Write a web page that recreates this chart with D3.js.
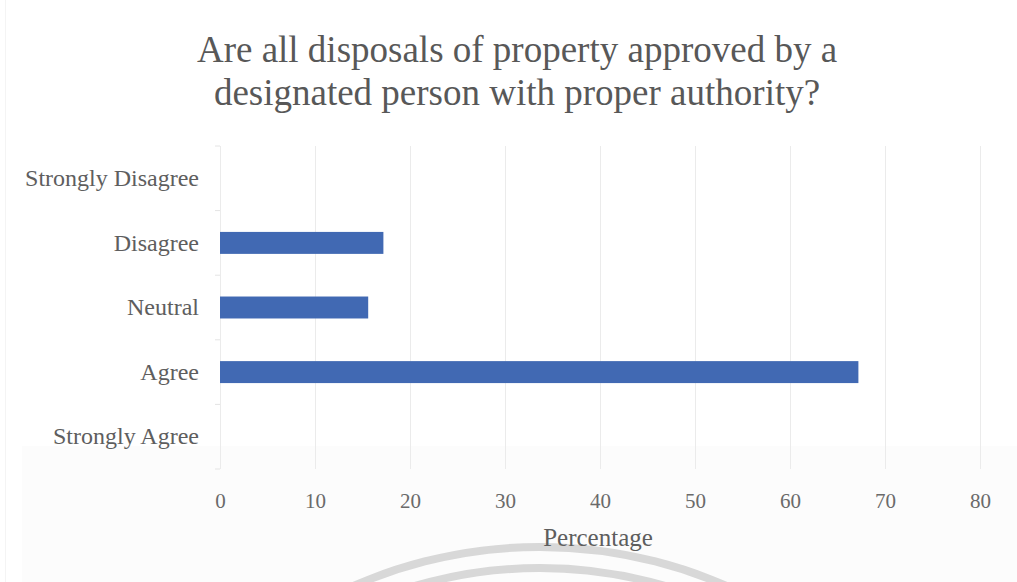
<!DOCTYPE html>
<html>
<head>
<meta charset="utf-8">
<script src="https://cdn.jsdelivr.net/npm/d3@7"></script>
<style>
  html, body { margin: 0; padding: 0; background: #ffffff; }
  svg { display: block; }
  text { font-family: "Liberation Serif", "Times New Roman", serif; }
</style>
</head>
<body>
<script>
// Survey responses, top to bottom as listed on the axis
const categories = ["Strongly Disagree", "Disagree", "Neutral", "Agree", "Strongly Agree"];
const percentages = [0, 17.2, 15.6, 67.2, 0];
const xTicks = [0, 10, 20, 30, 40, 50, 60, 70, 80];
const titleLines = ["Are all disposals of property approved by a", "designated person with proper authority?"];
const xTitle = "Percentage";

const W = 1017, H = 582;
const plot = { left: 220, right: 980, top: 146, bottom: 469 };

const svg = d3.select("body").append("svg")
  .attr("width", W).attr("height", H);

// page background, with a faintly darker lower strip
svg.append("rect").attr("width", W).attr("height", H).attr("fill", "#ffffff");
svg.append("rect").attr("x", 22).attr("y", 446).attr("width", W - 22).attr("height", H - 446)
  .attr("fill", "#fcfcfc");
svg.append("line").attr("x1", 5.5).attr("x2", 5.5).attr("y1", 0).attr("y2", H)
  .attr("stroke", "#f4f4f4").attr("stroke-width", 1);

const x = d3.scaleLinear().domain([0, 80]).range([plot.left, plot.right]);
const y = d3.scaleBand().domain(categories).range([plot.top, plot.bottom])
  .paddingInner(0.66).paddingOuter(0.33).align(0.5);

// vertical gridlines
svg.append("g").selectAll("line").data(xTicks).join("line")
  .attr("x1", d => x(d) + 0.5).attr("x2", d => x(d) + 0.5)
  .attr("y1", plot.top).attr("y2", plot.bottom)
  .attr("stroke", "#ebebeb").attr("stroke-width", 1);

// category boundary ticks on the left axis
const step = y.step();
const bounds = d3.range(categories.length + 1).map(i => plot.top + i * step);
svg.append("g").selectAll("line").data(bounds).join("line")
  .attr("x1", plot.left - 5).attr("x2", plot.left)
  .attr("y1", d => d).attr("y2", d => d)
  .attr("stroke", "#e4e4e4").attr("stroke-width", 1);

// bars
svg.append("g").selectAll("rect").data(categories.map((c, i) => ({ c, v: percentages[i] })))
  .join("rect")
  .attr("x", x(0))
  .attr("y", d => y(d.c))
  .attr("width", d => x(d.v) - x(0))
  .attr("height", y.bandwidth())
  .attr("fill", "#4169b3");

// x axis labels
const xAxis = svg.append("g").attr("transform", `translate(0,${plot.bottom})`)
  .call(d3.axisBottom(x).tickValues(xTicks).tickSize(0).tickPadding(24).tickFormat(d3.format("d")));
xAxis.select(".domain").remove();
xAxis.selectAll("text").attr("font-family", "Liberation Serif, serif")
  .attr("font-size", 21).attr("fill", "#6a6a6a");

// y axis labels
const yAxis = svg.append("g").attr("transform", `translate(${plot.left},0)`)
  .call(d3.axisLeft(y).tickSize(0).tickPadding(21));
yAxis.select(".domain").remove();
yAxis.selectAll("text").attr("font-family", "Liberation Serif, serif")
  .attr("font-size", 24).attr("fill", "#5e5e5e");

// title
svg.append("g").selectAll("text").data(titleLines).join("text")
  .attr("x", 517).attr("y", (d, i) => 62 + i * 43)
  .attr("text-anchor", "middle")
  .attr("font-size", 37).attr("fill", "#585858")
  .text(d => d);

// watermark rings near the bottom edge
const ringCx = 540, ringCy = 1013;
const arcGen = d3.arc().startAngle(-0.5).endAngle(0.5);
[[462, 470], [441, 449]].forEach(([r0, r1]) => {
  svg.append("path")
    .attr("transform", `translate(${ringCx},${ringCy})`)
    .attr("d", arcGen.innerRadius(r0).outerRadius(r1)())
    .attr("fill", "#d8d8d8");
});

// x axis title
svg.append("text")
  .attr("x", 598).attr("y", 546)
  .attr("text-anchor", "middle")
  .attr("font-size", 25).attr("fill", "#5e5e5e")
  .text(xTitle);
</script>
</body>
</html>
